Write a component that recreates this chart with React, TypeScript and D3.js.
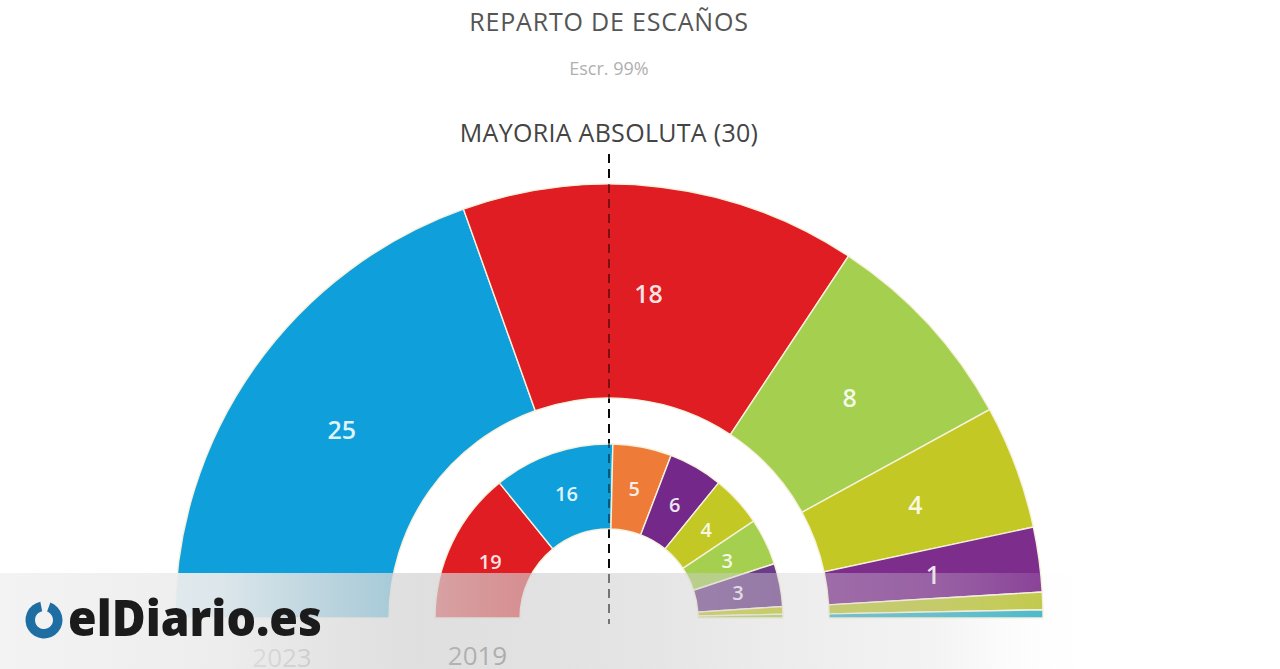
import React from 'react';
import * as d3 from 'd3';

// ---- Data (angle = vote share, label = seats) ----
const parties2023 = ['PP', 'PSOE', 'Vox', 'Més per Mallorca', 'Unidas Podemos', 'Més per Menorca', 'GxF'];
const votes2023 = [39.0, 29.4, 15.4, 9.2, 4.8, 1.3, 0.6];
const seats2023 = [25, 18, 8, 4, 1, 2, 1];
const colors2023 = ['#0fa0db', '#e11d24', '#a5cf4f', '#c3c824', '#7d2e8d', '#bcc53a', '#3ab3c6'];

const parties2019 = ['PSOE', 'PP', 'Cs', 'Podemos', 'Més per Mallorca', 'Vox', 'El Pi', 'Més per Menorca', 'GxF'];
const votes2019 = [28.3, 22.4, 10.9, 10.1, 9.5, 8.7, 8.0, 1.4, 0.7];
const seats2019 = [19, 16, 5, 6, 4, 3, 3, 2, 1];
const colors2019 = ['#e11d24', '#0fa0db', '#ee7c38', '#74298a', '#c3c824', '#a5cf4f', '#6c3b89', '#c3c824', '#a5cf4f'];

const years = ['2023', '2019'];
const title = 'REPARTO DE ESCAÑOS';
const subtitle = 'Escr. 99%';
const majorityLabel = 'MAYORIA ABSOLUTA (30)';

const W = 1280;
const H = 669;
const cx = 609;
const cy = 618;
const outerR = [220, 434];
const innerR = [89, 174];

type Row = { party: string; votes: number; seats: number; color: string };

function rows(p: string[], v: number[], s: number[], c: string[]): Row[] {
  return p.map((party, i) => ({ party, votes: v[i], seats: s[i], color: c[i] }));
}

const pie = d3
  .pie<Row>()
  .value((d) => d.votes)
  .sort(null)
  .startAngle(-Math.PI / 2)
  .endAngle(Math.PI / 2);

function Ring({ data, r0, r1, fontSize }: { data: Row[]; r0: number; r1: number; fontSize: number }) {
  const arc = d3.arc<d3.PieArcDatum<Row>>().innerRadius(r0).outerRadius(r1);
  const arcs = pie(data);
  return (
    <g>
      {arcs.map((a, i) => (
        <path key={i} d={arc(a) || ''} fill={a.data.color} stroke="#f6f1dc" strokeWidth={1.4} />
      ))}
      {arcs.map((a, i) => {
        if (a.endAngle - a.startAngle < 0.06) return null;
        const [x, y] = arc.centroid(a);
        return (
          <text
            key={'t' + i}
            x={x}
            y={y}
            textAnchor="middle"
            dominantBaseline="central"
            fill="#ffffff"
            fillOpacity={0.88}
            fontFamily="'Open Sans', sans-serif"
            fontWeight={600}
            fontSize={fontSize}
          >
            {a.data.seats}
          </text>
        );
      })}
    </g>
  );
}

export default function App() {
  const d2023 = rows(parties2023, votes2023, seats2023, colors2023);
  const d2019 = rows(parties2019, votes2019, seats2019, colors2019);
  const logoArc = d3
    .arc()
    .innerRadius(9)
    .outerRadius(18.5)
    .startAngle(0.35)
    .endAngle(Math.PI * 2 - 0.2);
  return (
    <svg
      width={W}
      height={H}
      style={{ position: 'absolute', left: 0, top: 0, background: '#fff' }}
      fontFamily="'Open Sans', sans-serif"
    >
      <defs>
        <linearGradient id="band" x1="0" x2="1" y1="0" y2="0">
          <stop offset="0" stopColor="#f3f3f3" stopOpacity={0.98} />
          <stop offset="0.2" stopColor="#ececec" stopOpacity={0.93} />
          <stop offset="0.38" stopColor="#d4d4d4" stopOpacity={0.74} />
          <stop offset="0.6" stopColor="#cccccc" stopOpacity={0.5} />
          <stop offset="0.85" stopColor="#d8d8d8" stopOpacity={0.3} />
          <stop offset="1" stopColor="#ffffff" stopOpacity={0} />
        </linearGradient>
      </defs>
      <rect width={W} height={H} fill="#fff" />

      <text x={cx} y={31} textAnchor="middle" fontSize={25} fill="#555" letterSpacing={0.8}>
        {title}
      </text>
      <text x={cx} y={75} textAnchor="middle" fontSize={18} fill="#b0b0b0">
        {subtitle}
      </text>
      <text x={cx} y={142} textAnchor="middle" fontSize={25} fill="#444" letterSpacing={0.3}>
        {majorityLabel}
      </text>

      {/* majority line under the chart */}
      <line x1={cx} x2={cx} y1={154} y2={624} stroke="#111" strokeWidth={2} strokeDasharray="9 6" />

      <g transform={`translate(${cx},${cy})`}>
        <Ring data={d2023} r0={outerR[0]} r1={outerR[1]} fontSize={25} />
        <Ring data={d2019} r0={innerR[0]} r1={innerR[1]} fontSize={20} />
      </g>

      {/* majority line seen through the chart */}
      <line
        x1={cx}
        x2={cx}
        y1={154}
        y2={624}
        stroke="#000"
        strokeOpacity={0.45}
        strokeWidth={2}
        strokeDasharray="9 6"
      />

      <text x={cx - (outerR[0] + outerR[1]) / 2} y={667} textAnchor="middle" fontSize={26} fill="#666">
        {years[0]}
      </text>
      <text x={cx - (innerR[0] + innerR[1]) / 2} y={665} textAnchor="middle" fontSize={26} fill="#666">
        {years[1]}
      </text>

      {/* banner overlay */}
      <rect x={0} y={573} width={1100} height={96} fill="url(#band)" />
      <g transform="translate(44,620)">
        <path d={logoArc({} as any) || ''} fill="#1f6ea3" />
      </g>
      <text
        x={68}
        y={636}
        fontSize={50}
        fontWeight={800}
        fill="#1b1b1b"
        fontFamily="'Open Sans', sans-serif"
        textLength={254}
        lengthAdjust="spacingAndGlyphs"
      >
        elDiario.es
      </text>
    </svg>
  );
}
